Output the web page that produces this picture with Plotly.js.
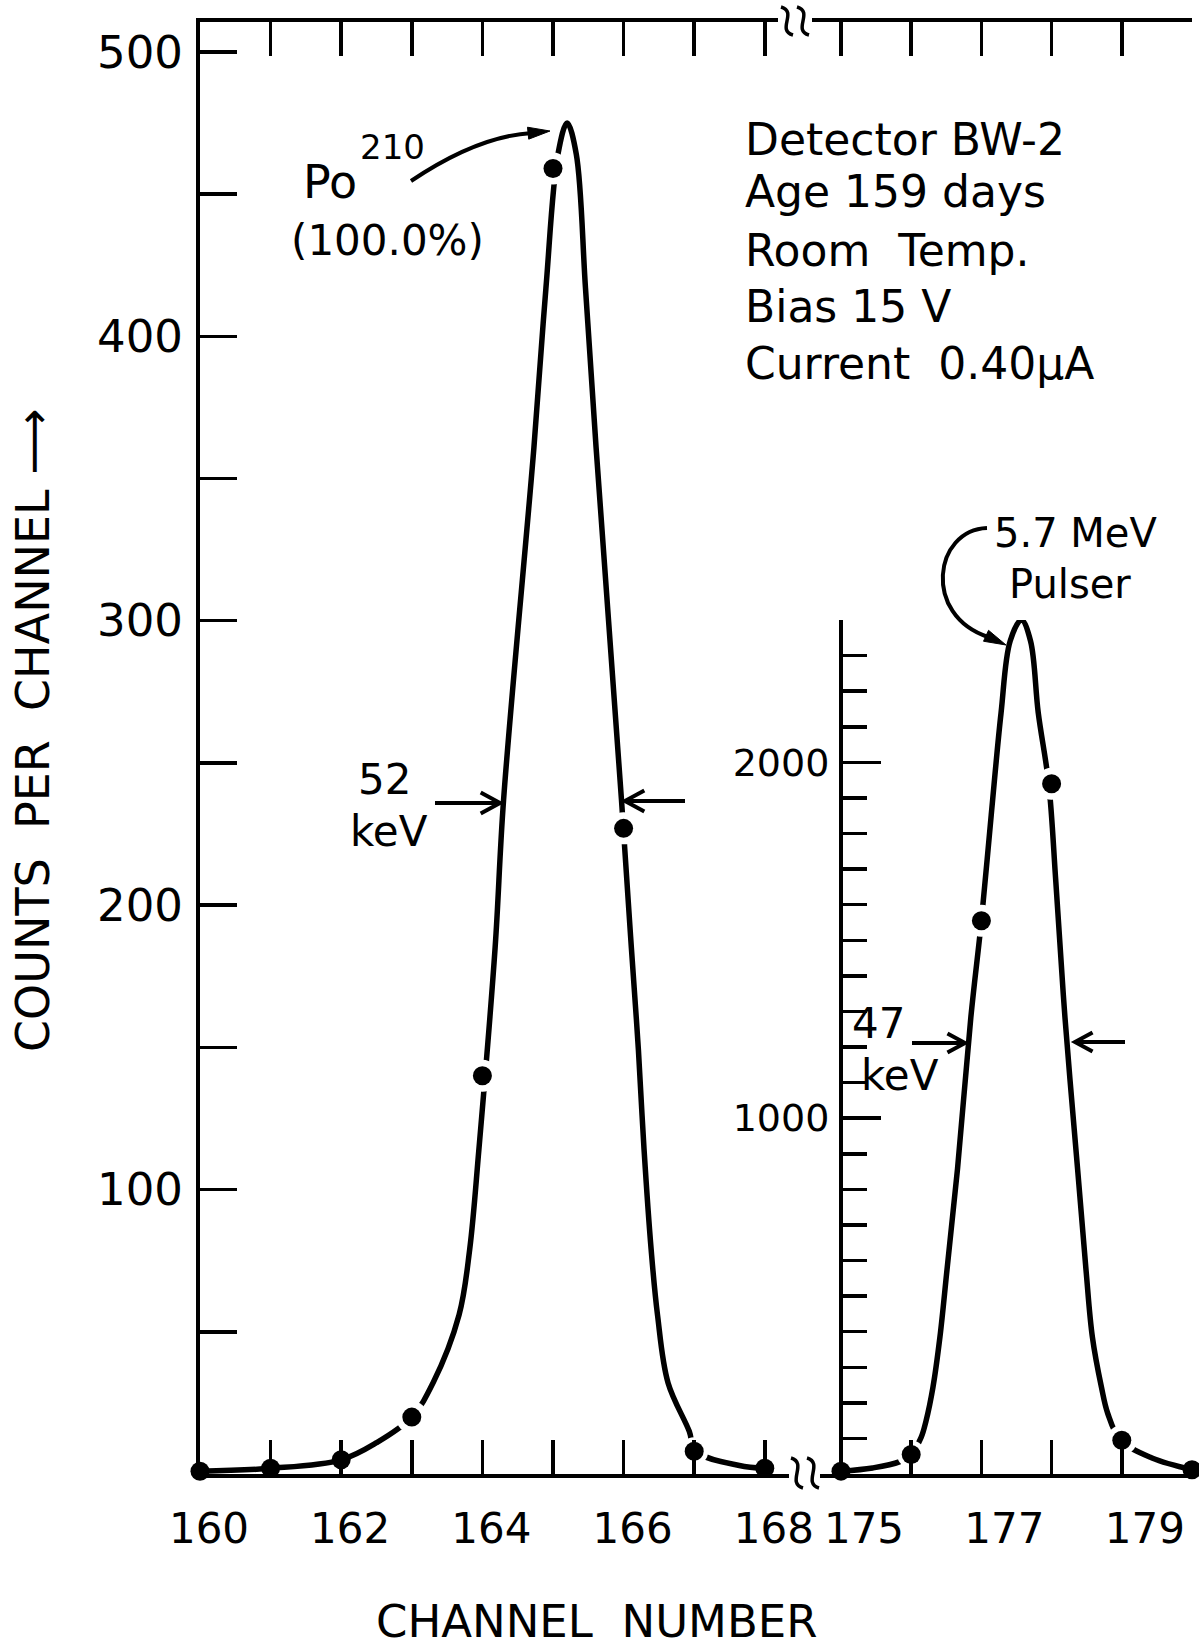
<!DOCTYPE html>
<html>
<head>
<meta charset="utf-8">
<script src="https://cdn.plot.ly/plotly-3.0.1.min.js"></script>
<style>
html,body{margin:0;padding:0;background:#fff;}
#chart{width:1199px;height:1649px;}
</style>
</head>
<body>
<div id="chart"></div>
<script>
// ---------------- data ----------------
const poChannels = [160, 161, 162, 163, 164, 165, 166, 167, 168];
const poCounts   = [1, 2, 5, 20, 140, 459, 227, 8, 2];

const poCurveChannel = [160, 161, 162, 162.5, 163, 163.3, 163.67, 163.82, 163.95, 164.18, 164.3, 164.73, 164.9, 165.07, 165.2, 165.33, 165.46, 165.61, 165.97, 166.11, 166.21, 166.29, 166.39, 166.48, 166.63, 166.93, 167.02, 167.64, 168];
const poCurveCounts  = [1, 2, 5, 11, 20, 32, 56, 79, 114, 185, 237, 361, 417, 464, 475, 464, 417, 361, 237, 185, 149, 114, 79, 56, 32, 15, 8, 3, 2];

const pulserChannels = [175, 176, 177, 178, 179, 180];
const pulserCounts   = [8, 55, 1555, 1940, 95, 12];

const pulserCurveChannel = [175, 175.45, 175.83, 176, 176.14, 176.21, 176.31, 176.41, 176.51, 176.66, 176.85, 177, 177.14, 177.28, 177.41, 177.57, 177.7, 177.81, 177.96, 178.06, 178.19, 178.37, 178.49, 178.58, 178.71, 178.8, 178.98, 179.43, 180];
const pulserCurveCounts  = [8, 17, 34, 55, 102, 148, 244, 386, 574, 858, 1284, 1555, 1852, 2139, 2341, 2400, 2341, 2139, 1938, 1665, 1284, 858, 574, 386, 244, 170, 95, 45, 12];

const mainXTicks  = [160, 161, 162, 163, 164, 165, 166, 167, 168];
const mainXLabels = ['160', '', '162', '', '164', '', '166', '', '168'];
const pulsXTicks  = [175, 176, 177, 178, 179];
const pulsXLabels = ['175', '', '177', '', '179'];
const mainYTicks  = [0, 50, 100, 150, 200, 250, 300, 350, 400, 450, 500];
const mainYLabels = ['', '', '100', '', '200', '', '300', '', '400', '', '500'];
const insetYTicks = [1000, 2000];
const insetYLabels = ['1000', '2000'];

// halo (gap) sizes around dots - style only
const poHalo = [0, 0, 0, 32, 32, 32, 32, 28, 0];
const pulserHalo = [0, 28, 32, 32, 30, 0];

// ---------------- geometry (pixels of the page) ----------------
const F = 'DejaVu Sans';
const L = 200, R = 1192, T = 22, B = 1474;
const px = x => (x - L) / (R - L);
const py = y => (B - y) / (B - T);
const P = (x, y) => px(x).toFixed(5) + ',' + py(y).toFixed(5);
const junction = 805;
const mainPxPerCh = 70.6;
const pulsPxPerCh = 70.2;
const pulsAxisPx = 841;

const black = '#000';

// ---------------- traces ----------------
const traces = [
  {x: poCurveChannel, y: poCurveCounts, xaxis: 'x', yaxis: 'y', mode: 'lines', type: 'scatter',
   line: {color: black, width: 5.5, shape: 'spline', smoothing: 1}, cliponaxis: false, hoverinfo: 'skip'},
  {x: poChannels, y: poCounts, xaxis: 'x', yaxis: 'y', mode: 'markers', type: 'scatter', opacity: 1,
   marker: {color: '#ffffff', opacity: 1, size: poHalo, line: {width: 0}}, cliponaxis: false, hoverinfo: 'skip'},
  {x: poChannels, y: poCounts, xaxis: 'x', yaxis: 'y', mode: 'markers', type: 'scatter', opacity: 1,
   marker: {color: black, opacity: 1, size: 19, line: {width: 0}}, cliponaxis: false},
  {x: pulserCurveChannel, y: pulserCurveCounts, xaxis: 'x2', yaxis: 'y2', mode: 'lines', type: 'scatter',
   line: {color: black, width: 5.5, shape: 'spline', smoothing: 1}, cliponaxis: false, hoverinfo: 'skip'},
  {x: pulserChannels, y: pulserCounts, xaxis: 'x2', yaxis: 'y2', mode: 'markers', type: 'scatter', opacity: 1,
   marker: {color: '#ffffff', opacity: 1, size: pulserHalo, line: {width: 0}}, cliponaxis: false, hoverinfo: 'skip'},
  {x: pulserChannels, y: pulserCounts, xaxis: 'x2', yaxis: 'y2', mode: 'markers', type: 'scatter', opacity: 1,
   marker: {color: black, opacity: 1, size: 19, line: {width: 0}}, cliponaxis: false}
];

// ---------------- decorations ----------------
function openArrow(x1, y1, x2, y2, hl, hw) {
  const a = Math.atan2(y2 - y1, x2 - x1);
  const p1 = [x2 - hl * Math.cos(a - hw), y2 - hl * Math.sin(a - hw)];
  const p2 = [x2 - hl * Math.cos(a + hw), y2 - hl * Math.sin(a + hw)];
  return {type: 'path', xref: 'paper', yref: 'paper', line: {color: black, width: 4},
    path: `M${P(x1, y1)} L${P(x2, y2)} M${P(p1[0], p1[1])} L${P(x2, y2)} L${P(p2[0], p2[1])}`};
}
function filledHead(tx, ty, fromx, fromy, hl, hw) {
  const a = Math.atan2(ty - fromy, tx - fromx);
  const bx = tx - hl * Math.cos(a), by = ty - hl * Math.sin(a);
  const nx = -Math.sin(a) * hw, ny = Math.cos(a) * hw;
  return {type: 'path', xref: 'paper', yref: 'paper', fillcolor: black, line: {color: black, width: 1},
    path: `M${P(tx, ty)} L${P(bx + nx, by + ny)} L${P(bx - nx, by - ny)} Z`};
}
function squiggle(cx, yt, yb) {
  return {type: 'path', xref: 'paper', yref: 'paper', line: {color: black, width: 3.5},
    path: `M${P(cx - 6, yt)} C${P(cx + 11, yt + 5)} ${P(cx - 11, yb - 5)} ${P(cx + 6, yb)}`};
}
function whiteRect(x0, y0, x1, y1) {
  return {type: 'rect', xref: 'paper', yref: 'paper', x0: px(x0), x1: px(x1), y0: py(y1), y1: py(y0),
    fillcolor: '#fff', line: {width: 0}};
}

const shapes = [
  // axis breaks
  whiteRect(789, 1463, 820, 1484), squiggle(797, 1458, 1488), squiggle(813, 1458, 1488),
  whiteRect(778, 13, 812, 31), squiggle(787, 7, 35), squiggle(803, 7, 35),
  // Po arrow
  {type: 'path', xref: 'paper', yref: 'paper', line: {color: black, width: 4},
   path: `M${P(411, 181)} Q${P(478, 136)} ${P(532, 133)}`},
  filledHead(550, 131, 520, 134, 22, 6),
  // pulser arrow
  {type: 'path', xref: 'paper', yref: 'paper', line: {color: black, width: 4},
   path: `M${P(987, 528)} C${P(934, 530)} ${P(922, 615)} ${P(988, 637)}`},
  filledHead(1006, 645, 980, 633, 22, 6),
  // FWHM arrows
  openArrow(435, 803, 500, 803, 22, 0.5),
  openArrow(685, 801, 625, 801, 22, 0.5),
  openArrow(912, 1043, 965, 1043, 20, 0.5),
  openArrow(1125, 1042, 1075, 1042, 20, 0.5)
];

function txt(text, x, y, size, extra) {
  return Object.assign({text: text, x: px(x), y: py(y), xref: 'paper', yref: 'paper', showarrow: false,
    font: {family: F, size: size, color: black}, xanchor: 'center', yanchor: 'middle'}, extra || {});
}

const annotations = [
  txt('Po', 330, 182, 46),
  txt('210', 392, 147, 34),
  txt('(100.0%)', 387, 240, 42),
  txt('52', 384, 779, 42),
  txt('keV', 389, 831, 42),
  txt('Detector BW-2', 743, 139, 44, {xanchor: 'left'}),
  txt('Age 159 days', 743, 191, 44, {xanchor: 'left'}),
  txt('Room  Temp.', 743, 250, 44, {xanchor: 'left'}),
  txt('Bias 15 V', 743, 307, 44, {xanchor: 'left'}),
  txt('Current  0.40μA', 743, 363, 44, {xanchor: 'left'}),
  txt('5.7 MeV', 1075, 533, 40),
  txt('Pulser', 1070, 584, 40),
  txt('47', 878, 1023, 42),
  txt('keV', 900, 1075, 42),
  txt('COUNTS  PER  CHANNEL ⟶', 33, 731, 46, {textangle: -90}),
  txt('CHANNEL  NUMBER', 596, 1621, 45)
];

const axBase = {showgrid: false, zeroline: false, showline: true, linecolor: black, linewidth: 4,
  ticks: 'inside', tickcolor: black, tickwidth: 3.5, fixedrange: true};

const layout = {
  width: 1199, height: 1649,
  margin: {l: L, r: 1199 - R, t: T, b: 1649 - B, pad: 0},
  paper_bgcolor: '#fff', plot_bgcolor: 'rgba(0,0,0,0)',
  showlegend: false,
  font: {family: F, color: black},
  xaxis: Object.assign({}, axBase, {
    domain: [0, px(junction)], range: [160, 160 + (junction - L) / mainPxPerCh], anchor: 'y',
    tickmode: 'array', tickvals: mainXTicks, ticktext: mainXLabels, ticklen: 34, mirror: 'ticks',
    tickfont: {family: F, size: 42, color: black}, ticklabelshift: 9, ticklabelstandoff: 15
  }),
  xaxis2: Object.assign({}, axBase, {
    domain: [px(junction), 1], range: [175 - (pulsAxisPx - junction) / pulsPxPerCh, 180], anchor: 'y',
    tickmode: 'array', tickvals: pulsXTicks, ticktext: pulsXLabels, ticklen: 34, mirror: 'ticks',
    tickfont: {family: F, size: 42, color: black}, ticklabelshift: 23, ticklabelstandoff: 15
  }),
  yaxis: Object.assign({}, axBase, {
    domain: [0, 1], range: [0, 510.5], anchor: 'x',
    tickmode: 'array', tickvals: mainYTicks, ticktext: mainYLabels, ticklen: 37,
    tickfont: {family: F, size: 45, color: black}, ticklabelstandoff: 4
  }),
  yaxis3: Object.assign({}, axBase, {
    overlaying: 'y', anchor: 'free', position: 1, side: 'right', range: [0, 510.5],
    tickmode: 'array', tickvals: mainYTicks, ticklen: 37, showticklabels: false
  }),
  yaxis2: Object.assign({}, axBase, {
    domain: [0, py(620)], range: [0, 2400], anchor: 'free', position: px(pulsAxisPx),
    tickmode: 'array', tickvals: insetYTicks, ticktext: insetYLabels, ticklen: 38,
    minor: {tickmode: 'linear', tick0: 0, dtick: 100, ticks: 'inside', ticklen: 24, tickwidth: 3.5, tickcolor: black},
    tickfont: {family: F, size: 38, color: black}, ticklabelstandoff: 2
  }),
  shapes: shapes,
  annotations: annotations
};

Plotly.newPlot('chart', traces, layout, {staticPlot: true, displayModeBar: false});
</script>
</body>
</html>
